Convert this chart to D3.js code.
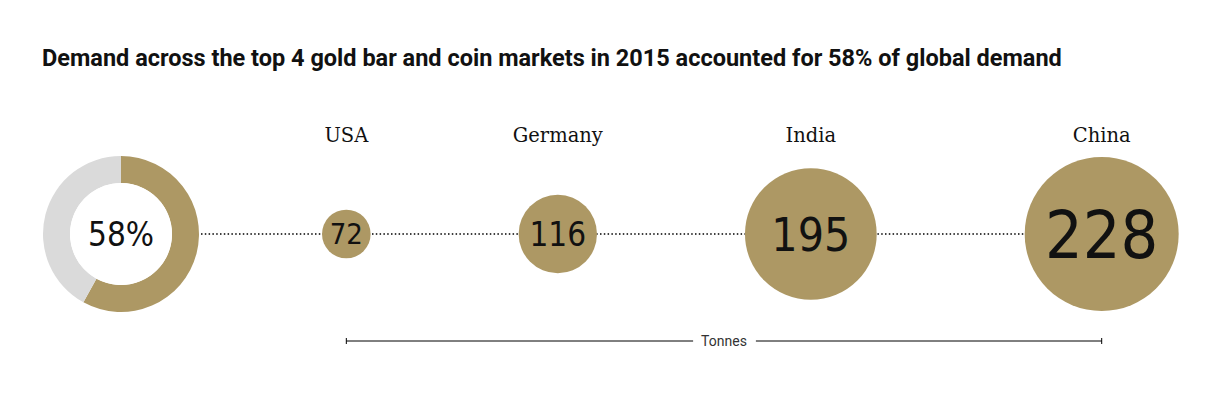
<!DOCTYPE html>
<html>
<head>
<meta charset="utf-8">
<script src="https://cdn.jsdelivr.net/npm/d3@7"></script>
<style>
  body { margin: 0; background: #fff; }
  .title { font-family: Roboto, sans-serif; font-weight: bold; font-size: 23.5px; fill: #111; }
  .country { font-family: "DejaVu Serif", serif; font-size: 19.5px; fill: #111; }
  .num { font-family: "DejaVu Sans Condensed", "DejaVu Sans", sans-serif; fill: #111; }
  .unit { font-family: Roboto, sans-serif; font-size: 14px; fill: #333; }
</style>
</head>
<body>
<script>
// Data
var countries = ["USA", "Germany", "India", "China"];
var tonnes = [72, 116, 195, 228];
var shareLabel = "58%";
var shareValue = [58, 42];
var titleText = "Demand across the top 4 gold bar and coin markets in 2015 accounted for 58% of global demand";
var unitLabel = "Tonnes";

// Chart Params
var svgWidth = 1226;
var svgHeight = 395;
var gold = "#ad9864";
var grey = "#dadada";
var midY = 234;

var svg = d3.select("body")
    .append("svg")
    .attr("width", svgWidth)
    .attr("height", svgHeight);

svg.append("text")
    .attr("class", "title")
    .attr("x", 42)
    .attr("y", 66)
    .text(titleText);

// radius is linear in tonnes
var rScale = d3.scaleLinear()
    .domain([0, d3.max(tonnes)])
    .range([0, 77]);

// font size of the number inside each bubble
var fontScale = d3.scaleLinear()
    .domain([72, 116, 195, 228])
    .range([29, 33, 46, 66]);

// bubbles sit with equal gaps between edges
var gap = 148;
var xs = [];
var cursor = 322;
tonnes.forEach(function (t) {
    var r = rScale(t);
    xs.push(cursor + r);
    cursor += 2 * r + gap;
});

// donut
var donutX = 121, outerR = 78, innerR = 51;
var pie = d3.pie().sort(null).value(d => d);
var arc = d3.arc().innerRadius(innerR).outerRadius(outerR);

// dotted connector
svg.append("line")
    .attr("x1", donutX + outerR + 2)
    .attr("x2", xs[xs.length - 1])
    .attr("y1", midY)
    .attr("y2", midY)
    .attr("stroke", "#000")
    .attr("stroke-width", 1.5)
    .attr("stroke-dasharray", "1.5,2.3");

var donut = svg.append("g")
    .attr("transform", `translate(${donutX}, ${midY})`);

donut.selectAll("path")
    .data(pie(shareValue))
    .enter()
    .append("path")
    .attr("d", arc)
    .attr("fill", (d, i) => i === 0 ? gold : grey);

donut.append("circle")
    .attr("r", innerR)
    .attr("fill", "#fff");

donut.append("text")
    .attr("class", "num")
    .attr("text-anchor", "middle")
    .attr("dy", "0.36em")
    .style("font-size", "33px")
    .text(shareLabel);

// bubbles
var bubbles = svg.selectAll("g.bubble")
    .data(tonnes)
    .enter()
    .append("g")
    .attr("class", "bubble")
    .attr("transform", (d, i) => `translate(${xs[i]}, ${midY})`);

bubbles.append("circle")
    .attr("r", d => rScale(d))
    .attr("fill", gold);

bubbles.append("text")
    .attr("class", "num")
    .attr("text-anchor", "middle")
    .attr("dy", "0.36em")
    .style("font-size", d => fontScale(d) + "px")
    .text(d => d);

bubbles.append("text")
    .attr("class", "country")
    .attr("text-anchor", "middle")
    .attr("y", 142 - midY)
    .text((d, i) => countries[i]);

// Tonnes bracket
var by = 341;
var bx1 = xs[0], bx2 = xs[xs.length - 1];
var unit = svg.append("text")
    .attr("class", "unit")
    .attr("x", (bx1 + bx2) / 2)
    .attr("y", by + 5)
    .attr("text-anchor", "middle")
    .text(unitLabel);
var bb = unit.node().getBBox();

svg.append("line")
    .attr("x1", bx1).attr("x2", bb.x - 8)
    .attr("y1", by).attr("y2", by)
    .attr("stroke", "#000");
svg.append("line")
    .attr("x1", bb.x + bb.width + 9).attr("x2", bx2)
    .attr("y1", by).attr("y2", by)
    .attr("stroke", "#000");
[bx1, bx2].forEach(function (x) {
    svg.append("line")
        .attr("x1", x).attr("x2", x)
        .attr("y1", by - 3).attr("y2", by + 3)
        .attr("stroke", "#000");
});
</script>
</body>
</html>
